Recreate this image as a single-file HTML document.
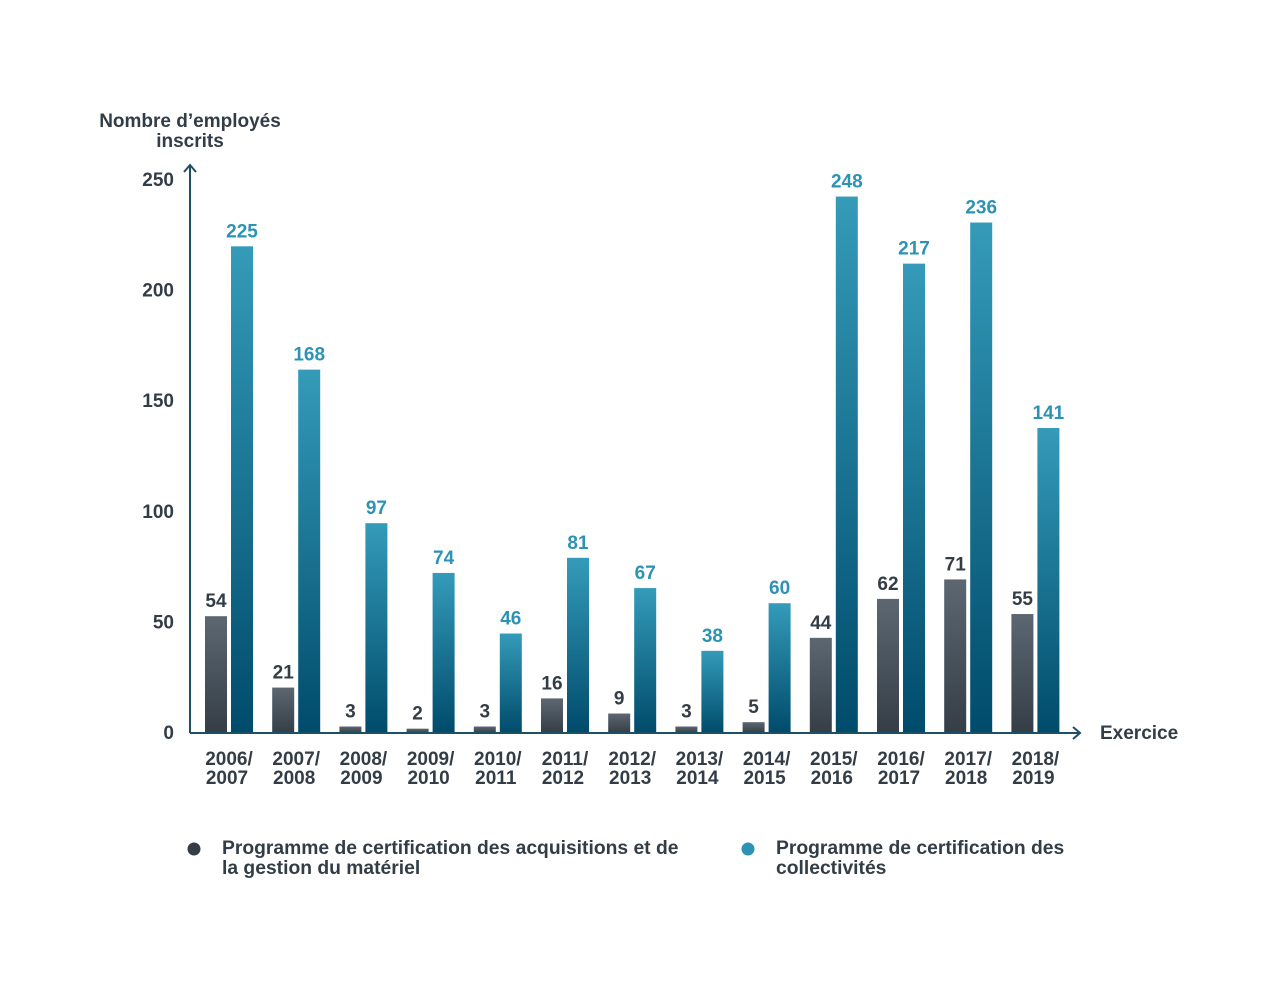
<!DOCTYPE html>
<html><head><meta charset="utf-8"><style>
body{margin:0;background:#fff;}
svg text{font-family:"Liberation Sans",Arial,sans-serif;font-weight:bold;}
</style></head><body>
<svg width="1280" height="989" viewBox="0 0 1280 989">
<defs>
<linearGradient id="gd" x1="0" y1="0" x2="0" y2="1"><stop offset="0" stop-color="#5c6771"/><stop offset="1" stop-color="#353e47"/></linearGradient>
<linearGradient id="gt" x1="0" y1="0" x2="0" y2="1"><stop offset="0" stop-color="#349bb9"/><stop offset="1" stop-color="#004b6b"/></linearGradient>
</defs>
<g id="plot"></g>
<text x="190" y="127" text-anchor="middle" font-size="19" fill="#333d47">Nombre d’employés</text>
<text x="190" y="147" text-anchor="middle" font-size="19" fill="#333d47">inscrits</text>
<text x="1100" y="739" font-size="19" fill="#333d47">Exercice</text>
<circle cx="194" cy="849" r="6.5" fill="#353e47"/>
<text x="222" y="854" font-size="19.3" fill="#333d47">Programme de certification des acquisitions et de</text>
<text x="222" y="874" font-size="19.3" fill="#333d47">la gestion du matériel</text>
<circle cx="748" cy="849" r="6.5" fill="#2c93b4"/>
<text x="776" y="854" font-size="19.3" fill="#333d47">Programme de certification des</text>
<text x="776" y="874" font-size="19.3" fill="#333d47">collectivités</text>
</svg>
<script>
const categoriesTop=["2006/","2007/","2008/","2009/","2010/","2011/","2012/","2013/","2014/","2015/","2016/","2017/","2018/"];
const categoriesBottom=["2007","2008","2009","2010","2011","2012","2013","2014","2015","2016","2017","2018","2019"];
const acquisitions=[54,21,3,2,3,16,9,3,5,44,62,71,55];
const collectivites=[225,168,97,74,46,81,67,38,60,248,217,236,141];
const yTicks=[0,50,100,150,200,250];
const NS="http://www.w3.org/2000/svg";
const g=document.getElementById('plot');
const y0=733,yTop=180,x0=190;
const yScale=v=>y0-(v/250)*(y0-yTop);
const barScale=v=>y0-v*2.163;
const xCenter=i=>227+i*67.2;
function mk(tag,attrs,txt){const e=document.createElementNS(NS,tag);for(const k in attrs)e.setAttribute(k,attrs[k]);if(txt!==undefined)e.textContent=txt;g.appendChild(e);return e;}
yTicks.forEach(t=>{
  const e=mk('text',{x:174,y:yScale(t)+6,'text-anchor':'end','font-size':19,fill:'#333d47'},t);
  
  
});
categoriesTop.forEach((c,i)=>{
  const cx=xCenter(i);
  const a=acquisitions[i],b=collectivites[i];
  const r1=mk('rect',{x:cx-22,y:barScale(a),width:22,height:y0-barScale(a),fill:'url(#gd)'});
  
  
  const r2=mk('rect',{x:cx+4,y:barScale(b),width:22,height:y0-barScale(b),fill:'url(#gt)'});
  
  
  const l1=mk('text',{x:cx-11,y:barScale(a)-9,'text-anchor':'middle','font-size':19,fill:'#333d47'},a);
  
  
  const l2=mk('text',{x:cx+15,y:barScale(b)-9,'text-anchor':'middle','font-size':19,fill:'#2c93b4'},b);
  
  
  const t1=mk('text',{x:cx+2,y:765,'text-anchor':'middle','font-size':19,fill:'#333d47'},c);
  
  
  const t2=mk('text',{x:cx,y:784,'text-anchor':'middle','font-size':19,fill:'#333d47'},categoriesBottom[i]);
  
  
});
const ya=mk('path',{d:`M${x0},${y0} V166 M${x0-6},172 L${x0},165 L${x0+6},172`,stroke:'#1d4f65','stroke-width':2,fill:'none'});


const xa=mk('path',{d:`M${x0},${y0} H1080 M1073,${y0-6} L1080,${y0} L1073,${y0+6}`,stroke:'#1d4f65','stroke-width':2,fill:'none'});


</script>
</body></html>
